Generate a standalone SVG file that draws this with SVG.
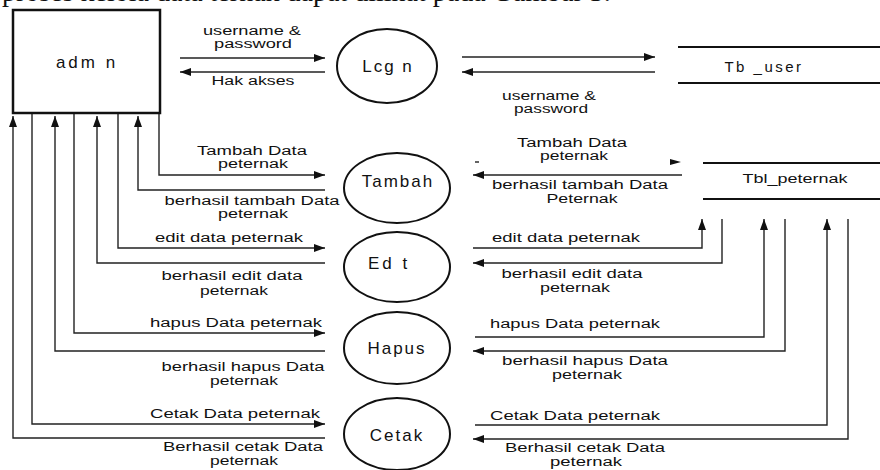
<svg xmlns="http://www.w3.org/2000/svg" width="880" height="470" viewBox="0 0 880 470">
<style>
.t{font-family:"Liberation Sans",Arial,sans-serif;font-size:12.5px;fill:#111;text-anchor:middle}
.n{font-family:"Liberation Sans",Arial,sans-serif;font-size:17px;fill:#111;text-anchor:middle;letter-spacing:2px}
.c{fill:none;stroke:#222;stroke-width:1.4}
.p{fill:#fff;stroke:#111;stroke-width:2}
.s{fill:none;stroke:#111;stroke-width:2}
.top{font-family:"Liberation Serif","Times New Roman",serif;font-size:28px;fill:#111}
</style>
<defs>
<marker id="ah" markerUnits="userSpaceOnUse" markerWidth="12" markerHeight="10" refX="11" refY="4" orient="auto">
<path d="M0,0 L11,4 L0,8 Z" fill="#111"/>
</marker>
</defs>
<rect width="880" height="470" fill="#fff"/>
<text class="top" x="2" y="0.5">proses kelola data ternak dapat dilihat pada Gambar 3.</text>

<g id="connectors">
<path class="c" d="M180,58 H325" marker-end="url(#ah)"/>
<path class="c" d="M325,72 H180" marker-end="url(#ah)"/>
<path class="c" d="M159,113 V175 H325" marker-end="url(#ah)"/>
<path class="c" d="M325,190 H138 V116" marker-end="url(#ah)"/>
<path class="c" d="M118,113 V248 H325" marker-end="url(#ah)"/>
<path class="c" d="M325,263 H97 V116" marker-end="url(#ah)"/>
<path class="c" d="M74,113 V333 H325" marker-end="url(#ah)"/>
<path class="c" d="M325,351 H55 V116" marker-end="url(#ah)"/>
<path class="c" d="M32,113 V424 H325" marker-end="url(#ah)"/>
<path class="c" d="M325,438 H13 V116" marker-end="url(#ah)"/>

<path class="c" d="M462,57 H655" marker-end="url(#ah)"/>
<path class="c" d="M655,72 H462" marker-end="url(#ah)"/>
<path class="c" d="M475,162 H479"/>
<path d="M670,159 L681,162 L670,165 Z" fill="#111"/>
<path class="c" d="M682,175 H473" marker-end="url(#ah)"/>
<path class="c" d="M473,248 H702 V219" marker-end="url(#ah)"/>
<path class="c" d="M722,219 V263 H473" marker-end="url(#ah)"/>
<path class="c" d="M475,337 H764 V219" marker-end="url(#ah)"/>
<path class="c" d="M785,219 V351 H473" marker-end="url(#ah)"/>
<path class="c" d="M475,425 H827 V219" marker-end="url(#ah)"/>
<path class="c" d="M848,219 V439 H473" marker-end="url(#ah)"/>

<text class="t" x="252" y="35" textLength="98" lengthAdjust="spacingAndGlyphs">username &amp;</text>
<text class="t" x="253" y="48" textLength="78" lengthAdjust="spacingAndGlyphs">password</text>
<text class="t" x="253" y="85" textLength="83" lengthAdjust="spacingAndGlyphs">Hak akses</text>
<text class="t" x="549" y="100" textLength="94" lengthAdjust="spacingAndGlyphs">username &amp;</text>
<text class="t" x="551" y="113" textLength="74" lengthAdjust="spacingAndGlyphs">password</text>

<text class="t" x="252" y="155" textLength="110" lengthAdjust="spacingAndGlyphs">Tambah Data</text>
<text class="t" x="253" y="168" textLength="70" lengthAdjust="spacingAndGlyphs">peternak</text>
<text class="t" x="252" y="205" textLength="175" lengthAdjust="spacingAndGlyphs">berhasil tambah Data</text>
<text class="t" x="253" y="218" textLength="70" lengthAdjust="spacingAndGlyphs">peternak</text>
<text class="t" x="229" y="242" textLength="148" lengthAdjust="spacingAndGlyphs">edit data peternak</text>
<text class="t" x="232" y="280" textLength="141" lengthAdjust="spacingAndGlyphs">berhasil edit data</text>
<text class="t" x="234" y="295" textLength="68" lengthAdjust="spacingAndGlyphs">peternak</text>
<text class="t" x="236" y="327" textLength="172" lengthAdjust="spacingAndGlyphs">hapus Data peternak</text>
<text class="t" x="243" y="371" textLength="163" lengthAdjust="spacingAndGlyphs">berhasil hapus Data</text>
<text class="t" x="244" y="385" textLength="68" lengthAdjust="spacingAndGlyphs">peternak</text>
<text class="t" x="235" y="418" textLength="170" lengthAdjust="spacingAndGlyphs">Cetak Data peternak</text>
<text class="t" x="243" y="451" textLength="160" lengthAdjust="spacingAndGlyphs">Berhasil cetak Data</text>
<text class="t" x="244" y="465" textLength="68" lengthAdjust="spacingAndGlyphs">peternak</text>

<text class="t" x="572" y="147" textLength="110" lengthAdjust="spacingAndGlyphs">Tambah Data</text>
<text class="t" x="574" y="160" textLength="68" lengthAdjust="spacingAndGlyphs">peternak</text>
<text class="t" x="580" y="189" textLength="176" lengthAdjust="spacingAndGlyphs">berhasil tambah Data</text>
<text class="t" x="582" y="203" textLength="71" lengthAdjust="spacingAndGlyphs">Peternak</text>
<text class="t" x="566" y="242" textLength="148" lengthAdjust="spacingAndGlyphs">edit data peternak</text>
<text class="t" x="572" y="278" textLength="141" lengthAdjust="spacingAndGlyphs">berhasil edit data</text>
<text class="t" x="575" y="292" textLength="70" lengthAdjust="spacingAndGlyphs">peternak</text>
<text class="t" x="575" y="328" textLength="170" lengthAdjust="spacingAndGlyphs">hapus Data peternak</text>
<text class="t" x="585" y="365" textLength="166" lengthAdjust="spacingAndGlyphs">berhasil hapus Data</text>
<text class="t" x="587" y="379" textLength="70" lengthAdjust="spacingAndGlyphs">peternak</text>
<text class="t" x="575" y="420" textLength="170" lengthAdjust="spacingAndGlyphs">Cetak Data peternak</text>
<text class="t" x="585" y="452" textLength="160" lengthAdjust="spacingAndGlyphs">Berhasil cetak Data</text>
<text class="t" x="586" y="466" textLength="72" lengthAdjust="spacingAndGlyphs">peternak</text>
</g>

<g id="admin">
<rect x="13" y="10" width="147" height="103" fill="#fff" stroke="#111" stroke-width="2.5"/>
<text class="n" x="87" y="68" style="letter-spacing:3px">adm n</text>
</g>
<g id="login">
<ellipse class="p" cx="387" cy="66" rx="50" ry="37"/>
<text class="n" x="388" y="72">Lcg n</text>
</g>
<g id="tambah">
<ellipse class="p" cx="397" cy="188" rx="53" ry="35"/>
<text class="n" x="398" y="187">Tambah</text>
</g>
<g id="edit">
<ellipse class="p" cx="397" cy="267" rx="53" ry="35"/>
<text class="n" x="389" y="269" style="letter-spacing:3px">Ed t</text>
</g>
<g id="hapus">
<ellipse class="p" cx="397" cy="348" rx="53" ry="36"/>
<text class="n" x="397" y="354">Hapus</text>
</g>
<g id="cetak">
<ellipse class="p" cx="397" cy="434" rx="53" ry="36"/>
<text class="n" x="397" y="441">Cetak</text>
</g>
<g id="tb_user">
<path class="s" d="M678,47 H880 M678,83 H880"/>
<text class="n" x="764" y="72" style="font-size:15px;letter-spacing:2.5px">Tb _user</text>
</g>
<g id="tbl_peternak">
<path class="s" d="M703,163 H880 M703,199 H880"/>
<text class="t" x="795" y="183" textLength="105" lengthAdjust="spacingAndGlyphs">Tbl_peternak</text>
</g>
</svg>
